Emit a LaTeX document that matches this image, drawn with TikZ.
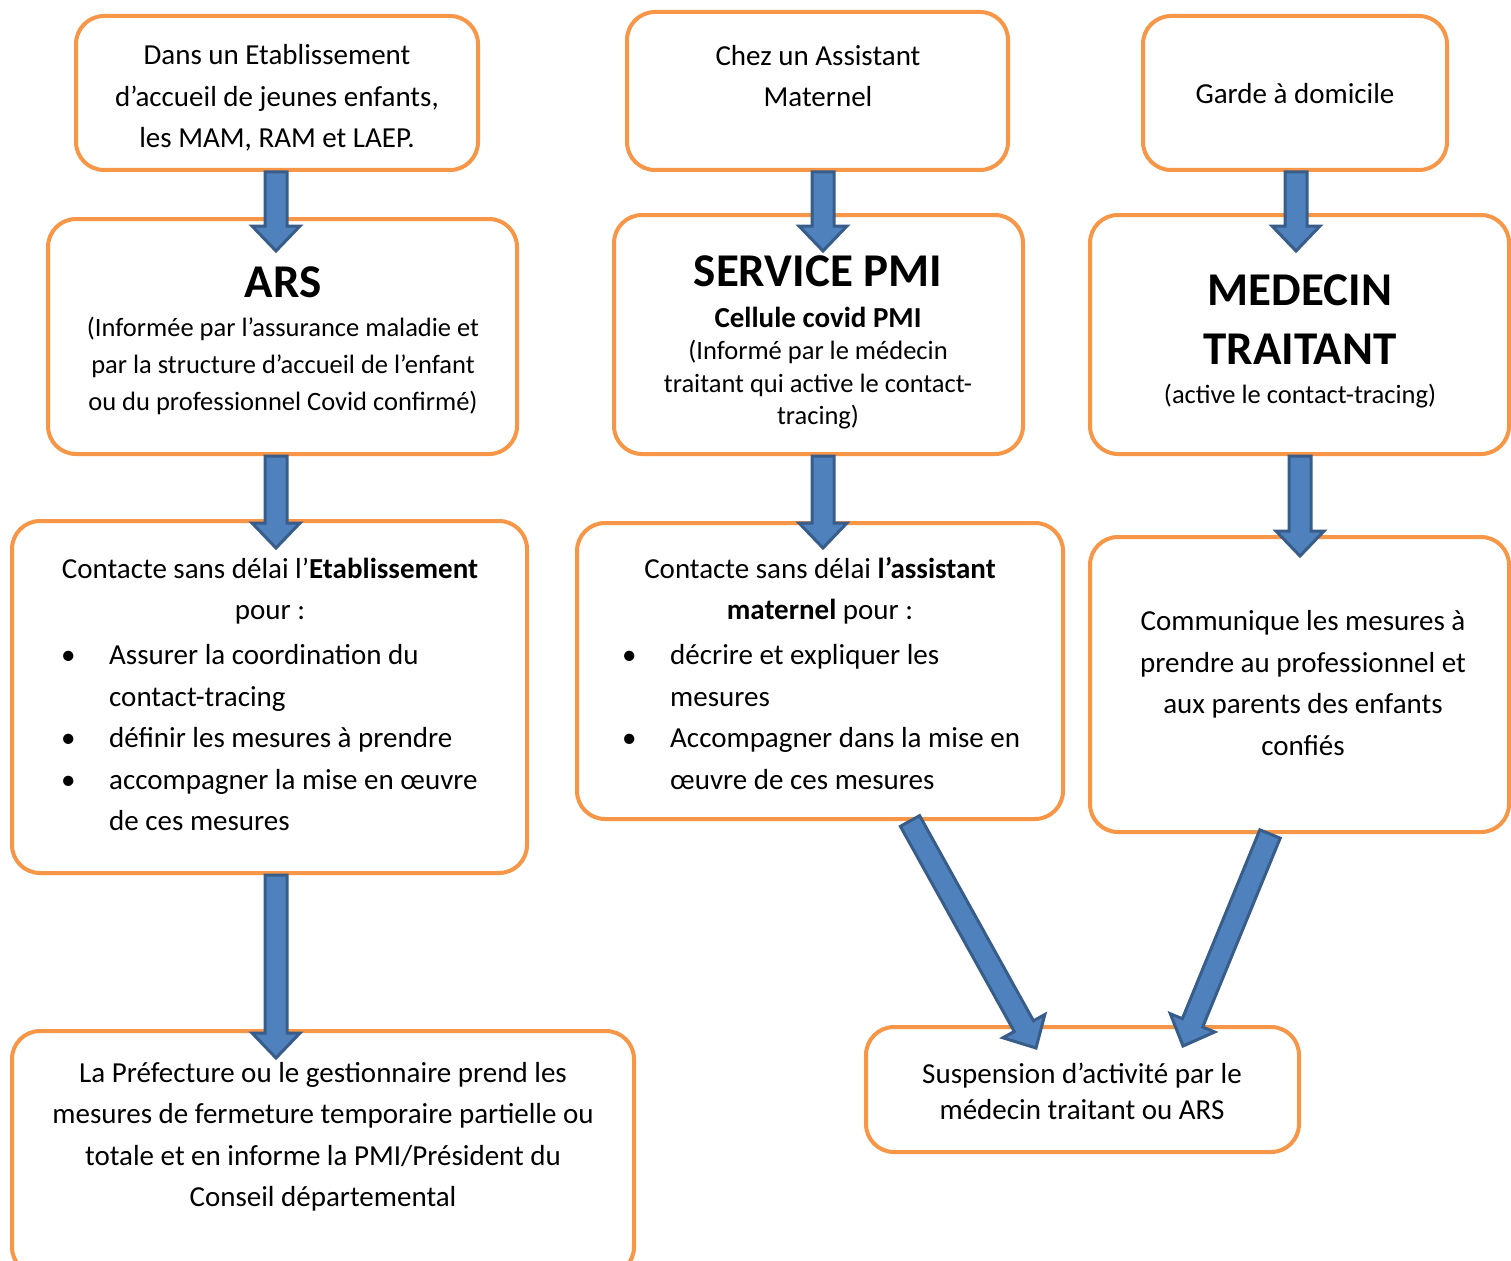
\documentclass[tikz,border=0pt]{standalone}
\usepackage{fontspec}
\setmainfont{Carlito}
\usetikzlibrary{calc}

\definecolor{orangeboite}{HTML}{F79646}
\definecolor{bleufleche}{HTML}{4F81BD}
\definecolor{bordfleche}{HTML}{385D8A}

\newcommand{\puce}{\makebox[48pt][l]{\textbullet}}
\newcommand{\retrait}{\hspace*{48pt}}

% grosse fleche bleue d'un point a un autre
\newcommand{\fleche}[2]{%
  \draw[flechebloc] let \p1=($(#2)-(#1)$), \n1={atan2(\y1,\x1)},
    \n2={veclen(\x1,\y1)-25}, \n3={\n1+90}, \n4={\n1-90} in
    ($(#1)+(\n3:11pt)$) -- ($(#1)+(\n1:\n2)+(\n3:11pt)$)
    -- ($(#1)+(\n1:\n2)+(\n3:24pt)$) -- (#2)
    -- ($(#1)+(\n1:\n2)+(\n4:24pt)$) -- ($(#1)+(\n1:\n2)+(\n4:11pt)$)
    -- ($(#1)+(\n4:11pt)$) -- cycle;}

\tikzset{
  boite/.style={draw=orangeboite, line width=4pt, rounded corners=28pt, fill=white, inner sep=0pt},
  corps/.style={align=center, inner sep=0pt, font={\fontsize{29}{41.5}\selectfont}},
  petit/.style={align=center, inner sep=0pt, font={\fontsize{26.5}{37}\selectfont}},
  titre/.style={align=center, inner sep=0pt, font={\fontsize{47}{59}\selectfont\bfseries}},
  flechebloc/.style={draw=bordfleche, fill=bleufleche, line width=3pt}
}

\begin{document}
\begin{tikzpicture}[x=1pt, y=-1pt]
    \useasboundingbox (0,0) rectangle (1511,1260);

    \node[boite, minimum width=402pt, minimum height=154pt] (a1) at (277,93) {};
    \node[boite, minimum width=381pt, minimum height=158pt] (b1) at (817.5,91) {};
    \node[boite, minimum width=304pt, minimum height=154pt] (c1) at (1295,93) {};

    \node[boite, minimum width=469pt, minimum height=235pt] (a2) at (282.5,336.5) {};
    \node[boite, minimum width=409pt, minimum height=239pt] (b2) at (818.5,334.5) {};
    \node[boite, minimum width=419pt, minimum height=239pt] (c2) at (1299.5,334.5) {};

    \node[boite, minimum width=515pt, minimum height=352pt] (a3) at (269.5,697) {};
    \node[boite, minimum width=486pt, minimum height=296pt] (b3) at (820,671) {};
    \node[boite, minimum width=419pt, minimum height=295pt] (c3) at (1299.5,684.5) {};

    \node[boite, minimum width=622pt, minimum height=244pt] (a4) at (323,1153) {};
    \node[boite, minimum width=433pt, minimum height=125pt] (b4) at (1082.5,1089.5) {};

    \node[corps] (ta1) at (277,98) {Dans un Etablissement\\d’accueil de jeunes enfants,\\les MAM, RAM et LAEP.};
    \node[corps] (tb1) at (818,76) {Chez un Assistant\\Maternel};
    \node[corps] (tc1) at (1295,94) {Garde à domicile};

    \node[titre] (ars) at (283,282) {ARS};
    \node[petit] (ta2) at (283,366) {(Informée par l’assurance maladie et\\par la structure d’accueil de l’enfant\\ou du professionnel Covid confirmé)};

    \node[titre] (pmi) at (818,271) {SERVICE PMI};
    \node[corps, font={\fontsize{29}{41.5}\selectfont\bfseries}] (cel) at (818,317) {Cellule covid PMI};
    \node[petit, font={\fontsize{26.5}{32.5}\selectfont}] (tb2) at (818,385) {(Informé par le médecin\\traitant qui active le contact-\\tracing)};

    \node[titre] (med) at (1300,320) {MEDECIN\\TRAITANT};
    \node[petit] (tc2) at (1300,396) {(active le contact-tracing)};

    \node[corps] (ta3) at (270,591) {Contacte sans délai l’\textbf{Etablissement}\\pour :};
    \node[corps, align=left, anchor=west] (la3) at (61,738) {\puce Assurer la coordination du\\\retrait contact-tracing\\\puce définir les mesures à prendre\\\puce accompagner la mise en œuvre\\\retrait de ces mesures};

    \node[corps] (tb3) at (820,591) {Contacte sans délai \textbf{l’assistant}\\\textbf{maternel} pour :};
    \node[corps, align=left, anchor=west] (lb3) at (622,717) {\puce décrire et expliquer les\\\retrait mesures\\\puce Accompagner dans la mise en\\\retrait œuvre de ces mesures};

    \node[corps] (tc3) at (1303,683) {Communique les mesures à\\prendre au professionnel et\\aux parents des enfants\\confiés};

    \node[corps] (ta4) at (323,1137) {La Préfecture ou le gestionnaire prend les\\mesures de fermeture temporaire partielle ou\\totale et en informe la PMI/Président du\\Conseil départemental};
    \node[corps, font={\fontsize{29}{36}\selectfont}] (tb4) at (1082,1091) {Suspension d’activité par le\\médecin traitant ou ARS};

    \coordinate (pa2) at (276,251);
    \coordinate (pb2) at (823,251);
    \coordinate (pc2) at (1296,251);
    \coordinate (pa3) at (276,548);
    \coordinate (pb3) at (823,548);
    \coordinate (pc3) at (1300,556);
    \coordinate (pa4) at (276,1058);
    \coordinate (pb4a) at (1036,1048);
    \coordinate (pb4b) at (1183,1046);

    \coordinate (da1) at (pa2 |- a1.south);
    \coordinate (db1) at (pb2 |- b1.south);
    \coordinate (dc1) at (pc2 |- c1.south);
    \coordinate (da2) at (pa3 |- a2.south);
    \coordinate (db2) at (pb3 |- b2.south);
    \coordinate (dc2) at (pc3 |- c2.south);
    \coordinate (da3) at (pa4 |- a3.south);
    \coordinate (db3) at ($(b3.south)+(90,0)$);
    \coordinate (dc3) at ($(c3.south)+(-29.5,0)$);

    \fleche{da1}{pa2}
    \fleche{db1}{pb2}
    \fleche{dc1}{pc2}
    \fleche{da2}{pa3}
    \fleche{db2}{pb3}
    \fleche{dc2}{pc3}
    \fleche{da3}{pa4}
    \fleche{db3}{pb4a}
    \fleche{dc3}{pb4b}

  \end{tikzpicture}
\end{document}
